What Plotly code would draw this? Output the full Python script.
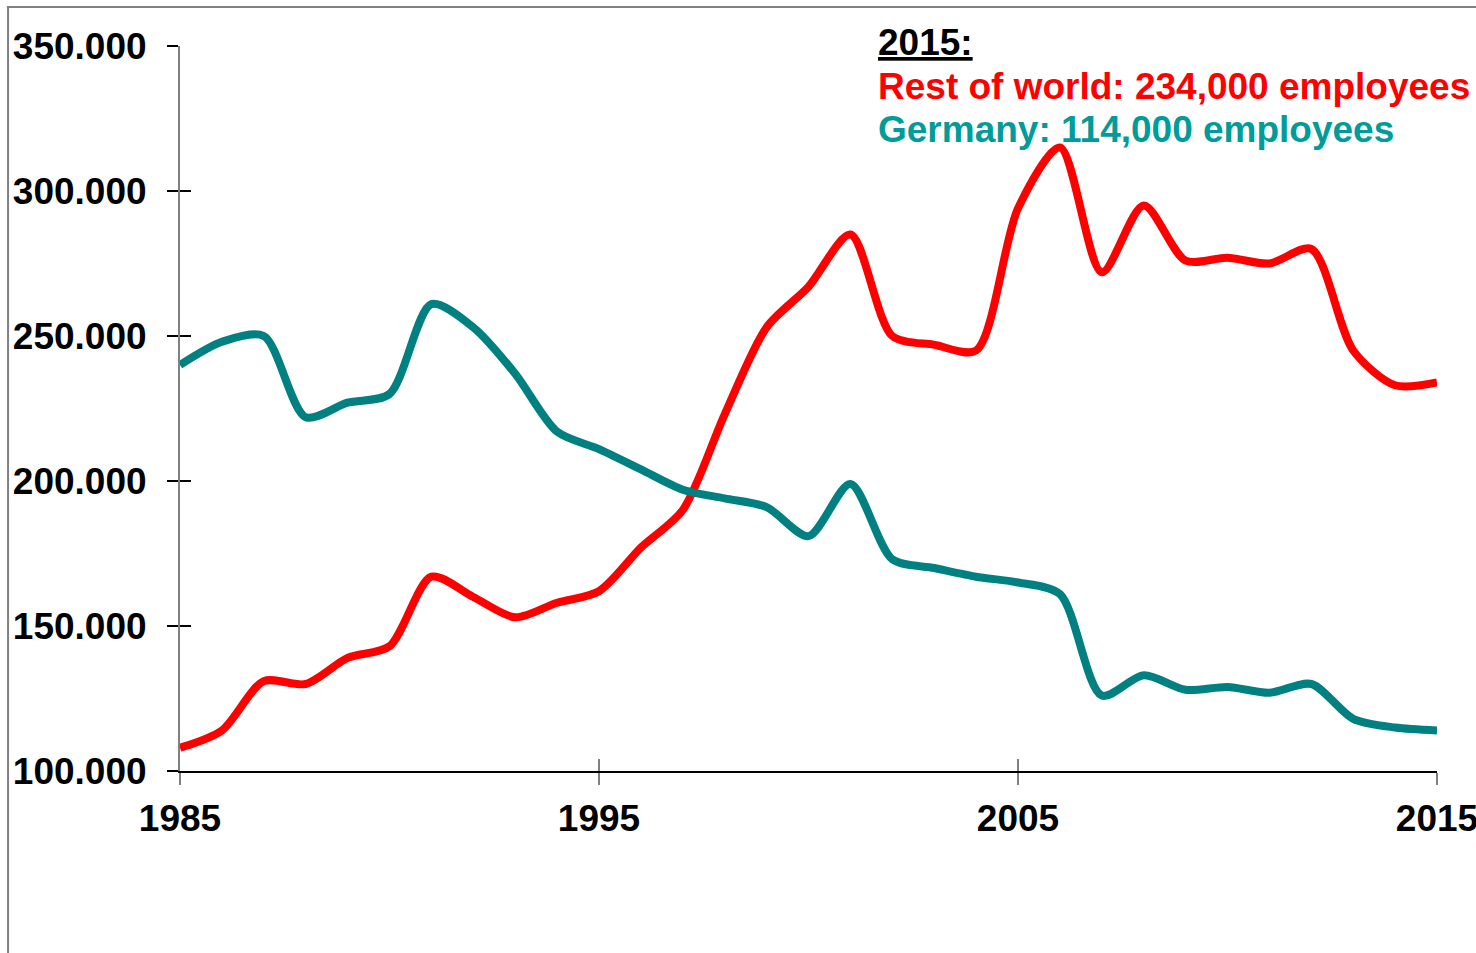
import plotly.graph_objects as go

years = list(range(1985, 2016))
rest_of_world = [108, 114, 131, 130, 139, 143, 167, 160, 153, 158, 162, 177, 190, 223, 253, 267,
                 285, 250, 247, 245, 294, 315, 272, 295, 276, 277, 275, 280, 245, 233, 234]
germany = [240, 248, 250, 222, 227, 230, 261, 253, 237, 217, 211, 204, 197, 194, 191, 181,
           199, 173, 170, 167, 165, 161, 126, 133, 128, 129, 127, 130, 118, 115, 114]
rest_of_world = [v * 1000 for v in rest_of_world]
germany = [v * 1000 for v in germany]

y_ticks = [100000, 150000, 200000, 250000, 300000, 350000]
x_ticks = [1985, 1995, 2005, 2015]

RED = "#FF0000"
TEAL = "#008080"
TEAL_TEXT = "#009C99"
FONT = "Liberation Sans, Arial, sans-serif"
FS = 37

fig = go.Figure()
fig.add_trace(go.Scatter(x=years, y=rest_of_world, mode="lines",
                         line=dict(color=RED, width=8, shape="spline", smoothing=0.8),
                         name="Rest of world", hoverinfo="x+y"))
fig.add_trace(go.Scatter(x=years, y=germany, mode="lines",
                         line=dict(color=TEAL, width=8, shape="spline", smoothing=0.8),
                         name="Germany", hoverinfo="x+y"))

fig.update_layout(
    width=1476, height=953,
    margin=dict(l=180, r=39, t=46, b=182, autoexpand=False),
    paper_bgcolor="white", plot_bgcolor="white",
    showlegend=False,
    separators=",.",
    font=dict(family=FONT, color="black"),
    xaxis=dict(range=[1985, 2015], tickvals=x_ticks, ticks="outside", ticklen=12,
               tickcolor="#808080", tickwidth=2, showline=True, linecolor="black", linewidth=1.5,
               showgrid=False, zeroline=False, ticklabeloverflow="allow", automargin=False,
               tickfont=dict(family=FONT, size=FS, color="black", weight="bold"),
               ticklabelstandoff=2),
    yaxis=dict(range=[100000, 350000], tickvals=y_ticks, tickformat=",d", ticks="outside",
               ticklen=11, tickcolor="black", tickwidth=1.5, showline=True, linecolor="#808080",
               linewidth=2, showgrid=False, zeroline=False, automargin=False,
               tickfont=dict(family=FONT, size=FS, color="black", weight="bold"),
               ticklabelstandoff=13),
    xaxis2=dict(range=[1985, 2015], tickvals=x_ticks, ticks="inside", ticklen=12,
                tickcolor="#808080", tickwidth=2, showticklabels=False, showline=False,
                showgrid=False, zeroline=False, overlaying="x", anchor="y"),
    yaxis2=dict(range=[100000, 350000], tickvals=y_ticks, ticks="inside", ticklen=11,
                tickcolor="black", tickwidth=1.5, showticklabels=False, showline=False,
                showgrid=False, zeroline=False, overlaying="y", anchor="x"),
)

# dummy invisible trace to activate second axes
fig.add_trace(go.Scatter(x=[1985], y=[100000], xaxis="x2", yaxis="y2", mode="markers",
                         marker=dict(opacity=0), hoverinfo="skip", showlegend=False))

# frame
fig.add_shape(type="line", xref="paper", yref="paper", x0=-0.1377, x1=1.1, y0=1.0538, y1=1.0538,
              line=dict(color="#808080", width=2))
fig.add_shape(type="line", xref="paper", yref="paper", x0=-0.1368, x1=-0.1368, y0=1.0538, y1=-0.3,
              line=dict(color="#808080", width=2))

ann_x = (876 - 180) / 1257
fig.add_annotation(xref="paper", yref="paper", x=ann_x, y=(771 - 42) / 725, xanchor="left",
                   yanchor="middle", showarrow=False, text="<b><u>2015:</u></b>",
                   font=dict(family=FONT, size=FS, color="black"))
fig.add_annotation(xref="paper", yref="paper", x=ann_x, y=(771 - 86) / 725, xanchor="left",
                   yanchor="middle", showarrow=False, text="<b>Rest of world: 234,000 employees</b>",
                   font=dict(family=FONT, size=FS, color=RED))
fig.add_annotation(xref="paper", yref="paper", x=ann_x, y=(771 - 130) / 725, xanchor="left",
                   yanchor="middle", showarrow=False, text="<b>Germany: 114,000 employees</b>",
                   font=dict(family=FONT, size=FS, color=TEAL_TEXT))

fig.write_html("out.html")
